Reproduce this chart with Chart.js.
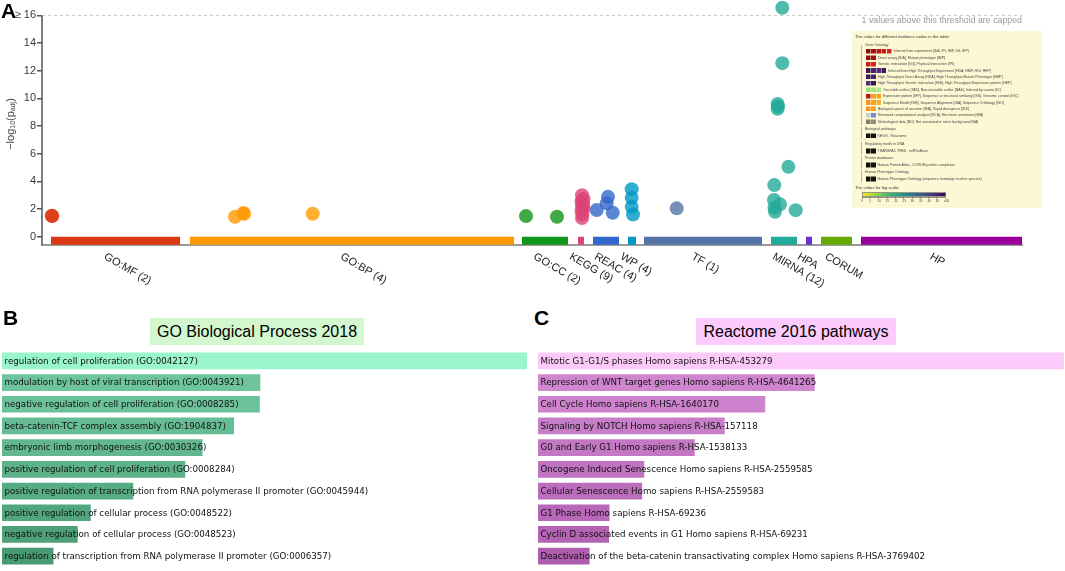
<!DOCTYPE html>
<html><head><meta charset="utf-8">
<script src="https://cdn.jsdelivr.net/npm/chart.js@4.4.1/dist/chart.umd.min.js"></script>
<style>
body{margin:0;background:#fff;font-family:"Liberation Sans",Arial,sans-serif;}
#wrap{position:relative;width:1065px;height:571px;overflow:hidden;}
.abs{position:absolute;}
.plabel{position:absolute;font:bold 21px/21px "Liberation Sans",Arial,sans-serif;color:#000;}
.tbox{position:absolute;height:27px;line-height:27px;text-align:center;font-size:16px;color:#000;}
#legend{position:absolute;left:852px;top:31px;width:190px;height:177px;background:#fcf8d4;overflow:hidden;}
#legIn{position:absolute;left:0;top:0;width:380px;height:354px;transform:scale(0.5);transform-origin:0 0;}
#legIn div{position:absolute;white-space:nowrap;color:#444;}
</style></head><body>
<div id="wrap">
<canvas id="cA" class="abs" style="left:0;top:-6px" width="1065" height="306"></canvas>
<div class="plabel" style="left:1px;top:0px">A</div>
<div class="abs" style="right:43px;top:15px;font-size:8.8px;color:#999">1 values above this threshold are capped</div>
<div id="legend"><div id="legIn"></div></div>
<div class="plabel" style="left:3px;top:307px">B</div>
<div class="tbox" style="left:150px;top:318px;width:214px;background:#d3f8cf">GO Biological Process 2018</div>
<canvas id="cB" class="abs" style="left:0;top:350px" width="528" height="217"></canvas>
<div class="plabel" style="left:534px;top:307px">C</div>
<div class="tbox" style="left:696px;top:318px;width:200px;background:#fccafc">Reactome 2016 pathways</div>
<canvas id="cC" class="abs" style="left:536px;top:350px" width="530" height="217"></canvas>
</div>
<script>
// ---------- Panel A data ----------
const sources = ['GO:MF','GO:BP','GO:CC','KEGG','REAC','WP','TF','MIRNA','HPA','CORUM','HP'];
const sourceLabels = ['GO:MF (2)','GO:BP (4)','GO:CC (2)','KEGG (9)','REAC (4)','WP (4)','TF (1)','MIRNA (12)','HPA','CORUM','HP'];
const segStart = [9,148,480,536,551,586,602,729,764,779,819];
const segEnd   = [138,472,526,542,577,594,720,755,770,810,980];
const yTicks = [0,2,4,6,8,10,12,14,16];
const capThreshold = 16;

const mfX = [9.7,10.3];            const mfY = [1.52,1.50];
const bpX = [193,201.5,202,270.7]; const bpY = [1.44,1.72,1.65,1.66];
const ccX = [484,515];             const ccY = [1.49,1.44];
const keggX = [540,541.5,539.5,541,540,541.5,539.5,540.5,540];
const keggY = [3.0,2.72,2.55,2.35,2.2,2.05,1.85,1.6,1.35];
const reacX = [554.7,566,564.7,570.7]; const reacY = [1.93,2.88,2.41,1.73];
const wpX = [589.7,589.7,589.7,591];   const wpY = [3.44,2.81,2.16,1.61];
const tfX = [634.7];                   const tfY = [2.05];
const mirX = [740.3,740.3,735.6,736,735.6,746.4,732.3,732,738,732.5,733,753.7];
const mirY = [16.55,12.55,9.6,9.42,9.25,5.05,3.73,2.65,2.34,2.1,1.8,1.92];
const hpaX = [], hpaY = [], corumX = [], corumY = [], hpX = [], hpY = [];

// ---------- Panel B / C data ----------
const goLabels = [
 'regulation of cell proliferation (GO:0042127)',
 'modulation by host of viral transcription (GO:0043921)',
 'negative regulation of cell proliferation (GO:0008285)',
 'beta-catenin-TCF complex assembly (GO:1904837)',
 'embryonic limb morphogenesis (GO:0030326)',
 'positive regulation of cell proliferation (GO:0008284)',
 'positive regulation of transcription from RNA polymerase II promoter (GO:0045944)',
 'positive regulation of cellular process (GO:0048522)',
 'negative regulation of cellular process (GO:0048523)',
 'regulation of transcription from RNA polymerase II promoter (GO:0006357)'];
const goScores = [100,49.2,49.1,44.2,38.2,34.9,25.0,16.9,14.4,9.8];
const reacLabels = [
 'Mitotic G1-G1/S phases Homo sapiens R-HSA-453279',
 'Repression of WNT target genes Homo sapiens R-HSA-4641265',
 'Cell Cycle Homo sapiens R-HSA-1640170',
 'Signaling by NOTCH Homo sapiens R-HSA-157118',
 'G0 and Early G1 Homo sapiens R-HSA-1538133',
 'Oncogene Induced Senescence Homo sapiens R-HSA-2559585',
 'Cellular Senescence Homo sapiens R-HSA-2559583',
 'G1 Phase Homo sapiens R-HSA-69236',
 'Cyclin D associated events in G1 Homo sapiens R-HSA-69231',
 'Deactivation of the beta-catenin transactivating complex Homo sapiens R-HSA-3769402'];
const reacScores = [100,52.6,43.2,35.5,29.8,20.2,19.8,13.6,13.5,9.8];

// ---------- styles ----------
const sourceColors = ['#dc3912','#ff9900','#109618','#dd4477','#3366cc','#0099c6','#5574a6','#22aa99','#6633cc','#66aa00','#990099'];
const goColors = ['rgb(153,245,204)','rgb(110,196,156)','rgb(107,193,153)','rgb(102,188,148)','rgb(98,183,143)','rgb(93,178,138)','rgb(87,172,132)','rgb(82,166,126)','rgb(77,160,120)','rgb(72,154,114)'];
const reacColors = ['rgb(251,202,251)','rgb(207,134,207)','rgb(204,130,204)','rgb(200,125,200)','rgb(196,120,196)','rgb(192,115,192)','rgb(188,110,188)','rgb(184,104,184)','rgb(180,99,180)','rgb(175,94,175)'];
const FONT = '"Liberation Sans", Arial, sans-serif';
const OFF = 6; // canvas A is shifted up by this many px

function hexA(h,a){const n=parseInt(h.slice(1),16);return `rgba(${n>>16},${(n>>8)&255},${n&255},${a})`;}

const pointsX = [mfX,bpX,ccX,keggX,reacX,wpX,tfX,mirX,hpaX,corumX,hpX];
const pointsY = [mfY,bpY,ccY,keggY,reacY,wpY,tfY,mirY,hpaY,corumY,hpY];

const datasetsA = [];
sources.forEach((s,i)=>{
  if(!pointsX[i].length) return;
  datasetsA.push({label:s, data: pointsX[i].map((x,k)=>({x, y: pointsY[i][k]})),
    backgroundColor: hexA(sourceColors[i],0.8), borderWidth:0, pointRadius:7, pointHoverRadius:7, order:0, clip:false});
});
sources.forEach((s,i)=>{
  datasetsA.push({label:s+' bar', data:[{x:segStart[i],y:-0.3},{x:segEnd[i],y:-0.3}], showLine:true,
    borderColor:sourceColors[i], borderWidth:8, borderCapStyle:'butt', pointRadius:0, order:10});
});
datasetsA.push({label:'threshold', data:[{x:0,y:capThreshold},{x:980,y:capThreshold}], showLine:true,
  borderColor:'#c8c8c8', borderWidth:1, borderDash:[3,3], pointRadius:0, order:11, clip:false});
datasetsA.push({label:'yaxis', data:[{x:0,y:-0.6},{x:0,y:capThreshold}], showLine:true,
  borderColor:'#555', borderWidth:1.5, pointRadius:0, order:12, clip:false});

const plugA = {id:'plugA', afterDraw(chart){
  const {ctx, scales:{x}} = chart;
  ctx.save();
  ctx.font = '11px '+FONT; ctx.fillStyle = '#222'; ctx.textBaseline = 'top'; ctx.textAlign = 'left';
  sourceLabels.forEach((lab,i)=>{
    const cx = x.getPixelForValue((segStart[i]+segEnd[i])/2);
    ctx.save(); ctx.translate(cx-8, 251+OFF); ctx.rotate(Math.PI/6); ctx.fillText(lab,0,0); ctx.restore();
  });
  const parts = [['−log',11,0],['10',7,2.5],['(p',11,0],['adj',7,2.5],[')',11,0]];
  let tw = 0; parts.forEach(p=>{ctx.font=p[1]+'px '+FONT; tw += ctx.measureText(p[0]).width;});
  ctx.translate(10.5,124+OFF); ctx.rotate(-Math.PI/2);
  ctx.fillStyle = '#444'; ctx.textBaseline = 'middle';
  let px = -tw/2;
  parts.forEach(p=>{ctx.font=p[1]+'px '+FONT; ctx.fillText(p[0],px,p[2]); px += ctx.measureText(p[0]).width;});
  ctx.restore();
}};

new Chart(document.getElementById('cA'), {
  type:'scatter',
  data:{datasets:datasetsA},
  options:{responsive:false, animation:false, events:[],
    layout:{padding:{top:7.15,right:43,bottom:55,left:0}},
    plugins:{legend:{display:false}, tooltip:{enabled:false}},
    scales:{
      x:{type:'linear', min:0, max:980, ticks:{display:false}, grid:{display:false, drawTicks:false},
         border:{display:true, color:'#9a9a9a', width:2}, afterFit(s){s.height=0;}},
      y:{type:'linear', min:-0.6, max:17,
         afterBuildTicks(s){ s.ticks = yTicks.map(v=>({value:v})); },
         ticks:{callback:v => v===16 ? '≥ 16' : String(v), font:{family:'Liberation Sans', size:11}, color:'#3a3a3a', padding:1, autoSkip:false},
         grid:{drawOnChartArea:false, drawTicks:true, tickLength:5, color:'#555', lineWidth:1.5},
         border:{display:false},
         afterFit(s){s.width=42;}}
    }},
  plugins:[plugA]
});

function barLabelPlugin(labels){
  return {id:'barLabels', afterDatasetsDraw(chart){
    const ctx = chart.ctx; const meta = chart.getDatasetMeta(0);
    ctx.save(); ctx.font = '8.7px "DejaVu Sans", sans-serif'; ctx.fillStyle = '#111'; ctx.textBaseline='middle'; ctx.textAlign='left';
    meta.data.forEach((bar,i)=>{ ctx.fillText(labels[i], bar.base+2.5, bar.y+0.5); });
    ctx.restore();
  }};
}
function enrichChart(id, labels, scores, colors, pad){
  new Chart(document.getElementById(id), {
    type:'bar',
    data:{labels, datasets:[{data:scores, backgroundColor:colors, borderWidth:0, barPercentage:0.77, categoryPercentage:1}]},
    options:{indexAxis:'y', responsive:false, animation:false, events:[],
      layout:{padding:pad},
      plugins:{legend:{display:false}, tooltip:{enabled:false}},
      scales:{x:{display:false, min:0, max:100}, y:{display:false}}},
    plugins:[barLabelPlugin(labels)]
  });
}
enrichChart('cB', goLabels, goScores, goColors, {left:2,right:1,top:0,bottom:0});
enrichChart('cC', reacLabels, reacScores, reacColors, {left:2,right:2,top:0,bottom:0});

// ---------- evidence-code legend box ----------
const legIn = document.getElementById('legIn');
function L(txt,x,y,size,extra){const d=document.createElement('div');d.textContent=txt;
  d.style.left=(x*2)+'px';d.style.top=(y*2)+'px';d.style.fontSize=(size*2)+'px';d.style.lineHeight=(size*2.4)+'px';
  if(extra) d.style.cssText += extra; legIn.appendChild(d);return d;}
function R(x,y,w,h,c){const d=document.createElement('div');d.style.left=(x*2)+'px';d.style.top=(y*2)+'px';
  d.style.width=(w*2)+'px';d.style.height=(h*2)+'px';d.style.background=c;legIn.appendChild(d);return d;}
L('The colors for different evidence codes in the table:',3,2.5,4.2,'color:#333');
const evRows = [
 [['#8c0d0d','#a11212','#b51616','#c91a1a','#dc1f1f'],'Inferred from experiment [IDA, IPI, IMP, IGI, IEP]'],
 [['#8c0d0d','#a11212'],'Direct assay [IDA], Mutant phenotype [IMP]'],
 [['#c91a1a','#dc1f1f'],'Genetic interaction [IGI], Physical interaction [IPI]'],
 [['#3d1c5e','#4b226f','#542a7c','#3b1a58'],'Inferred from High Throughput Experiment [HDA, HMP, HGI, HEP]'],
 [['#3d1c5e','#4b226f'],'High Throughput Direct Assay [HDA], High Throughput Mutant Phenotype [HMP]'],
 [['#542a7c','#3b1a58'],'High Throughput Genetic interaction [HGI], High Throughput Expression pattern [HEP]'],
 [['#9be07a','#a3e582','#abe98a'],'Traceable author [TAS], Non-traceable author [NAS], Inferred by curator [IC]'],
 [['#b51616','#f7a21b','#f7a21b'],'Expression pattern [IEP], Sequence or structural similarity [ISS], Genomic context [IGC]'],
 [['#f7941d','#f7a21b','#f9b233'],'Sequence Model [ISM], Sequence Alignment [ISA], Sequence Orthology [ISO]'],
 [['#f7941d','#f7a21b'],'Biological aspect of ancestor [IBA], Rapid divergence [IRD]'],
 [['#c5d6d8','#6e8fd4'],'Reviewed computational analysis [RCA], Electronic annotation [IEA]'],
 [['#8a7a6a','#9a8a7a'],'No biological data [ND], Not annotated or not in background [NA]']];
R(9,14,1,80,'#bdb89c');
L('Gene Ontology',13,11.5,3.5);
evRows.forEach((r,i)=>{const cy=20.3+i*6.4;
  r[0].forEach((c,k)=>R(14+k*5.2,cy-2.3,4.6,4.6,c));
  L(r[1],14+r[0].length*5.2+1.5,cy-2.1,3.5);});
const secs=[['Biological pathways','KEGG , Reactome',97.7],['Regulatory motifs in DNA','TRANSFAC TFBS , miRTarBase',113],
 ['Protein databases','Human Protein Atlas , CORUM protein complexes',127],['Human Phenotype Ontology','Human Phenotype Ontology (sequence homologs in other species)',141]];
secs.forEach(s=>{R(9,s[2]-2,1,12.5,'#bdb89c');L(s[0],13,s[2]-2,3.5);
  R(14,s[2]+4.7,4.6,4.6,'#111');R(19.2,s[2]+4.7,4.6,4.6,'#111');L(s[1],25.5,s[2]+5,3.5);});
L('The colors for log scale:',3,153.5,4.2,'color:#333');
const g=R(10,161.5,83,3,'linear-gradient(to right,#fde725,#8fd744,#35b779,#21918c,#31688e,#443983,#440154)');
g.style.border='1px solid #333';
R(10,166,83,0.5,'#333');
['0','5','10','15','20','25','30','35','40','45','≥50'].forEach((t,i)=>{const x=10+i*8.3;R(x,166,0.4,1.5,'#333');
  L(t,x-1,167.8,3,'color:#333');});
</script>
</body></html>
